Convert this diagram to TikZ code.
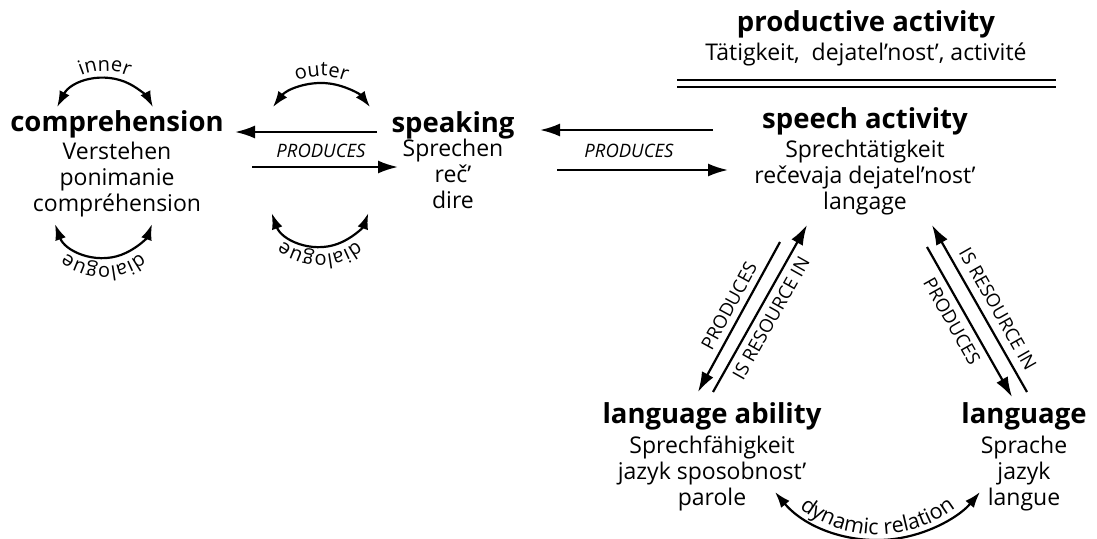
\documentclass[tikz,border=0pt]{standalone}
\usepackage{fontspec}
\setmainfont{Open Sans}
\usetikzlibrary{arrows.meta,decorations.text}
\newcommand\lblfont{\fontsize{20}{22}\selectfont}
\newcommand\dynfont{\fontsize{21.5}{24}\selectfont}
\tikzset{
  arr/.style={line width=2.2pt, -{Latex[length=20pt,width=13pt]}},
  carr/.style={line width=2.2pt, {Latex[length=16pt,width=11pt]}-{Latex[length=16pt,width=11pt]}},
  title/.style={anchor=base, inner sep=0pt, font=\fontsize{27.5}{30}\selectfont\bfseries},
  sub/.style={align=center, anchor=base, inner sep=0pt, font=\fontsize{23}{26}\selectfont},
  rel/.style={font=\fontsize{18.5}{21}\selectfont, inner sep=0pt, anchor=center},
  relit/.style={font=\fontsize{18.5}{21}\selectfont\itshape, inner sep=0pt, anchor=base},
  arctext/.style={decorate, decoration={text along path, text align=center, text={#1}}},
}
\begin{document}
\begin{tikzpicture}[x=1pt,y=-1pt]
\useasboundingbox (0,0) rectangle (1097,538);
% concepts (title line, then the lines below it; sub nodes sit on their last baseline)
\node[title] (comp) at (117,131) {comprehension};
\node[sub] (compsub) at (117,211) {Verstehen\\ponimanie\\compréhension};
\node[title] (spk) at (453,132) {speaking};
\node[sub] (spksub) at (453,208) {Sprechen\\reč’\\dire};
\node[title] (sa) at (865,128) {speech activity};
\node[sub] (sasub) at (865,209) {Sprechtätigkeit\\rečevaja dejatel’nost’\\langage};
\node[title] (pa) at (866,31) {productive activity};
\node[sub] (pasub) at (866,60) {Tätigkeit, \ dejatel’nost’, activité};
\node[title] (la) at (712,423) {language ability};
\node[sub] (lasub) at (712,505) {Sprechfähigkeit\\jazyk sposobnost’\\parole};
\node[title] (lang) at (1024,423) {language};
\node[sub] (langsub) at (1024,505) {Sprache\\jazyk\\langue};
% double rule
\coordinate (ruleL) at (677,83.5);
\coordinate (ruleR) at (1056,83.5);
\draw[line width=2pt, double, double distance=5pt] (ruleL) -- (ruleR);
% horizontal arrows
\coordinate (a1s) at (377,132); \coordinate (a1e) at (235,132);
\coordinate (a2s) at (252,167); \coordinate (a2e) at (398,167);
\coordinate (a3s) at (713,130); \coordinate (a3e) at (540,130);
\coordinate (a4s) at (557,170); \coordinate (a4e) at (728,170);
\draw[arr] (a1s) -- (a1e);
\draw[arr] (a2s) -- (a2e);
\draw[arr] (a3s) -- (a3e);
\draw[arr] (a4s) -- (a4e);
\node[relit] (p1) at (321,157) {PRODUCES};
\node[relit] (p2) at (629,157) {PRODUCES};
% diagonal arrows
\coordinate (d1s) at (780,242); \coordinate (d1e) at (698,392);
\coordinate (d2s) at (713,392); \coordinate (d2e) at (807,225);
\coordinate (d3s) at (1027,392); \coordinate (d3e) at (932,225);
\coordinate (d4s) at (927,247); \coordinate (d4e) at (1012,397);
\draw[arr] (d1s) -- (d1e);
\draw[arr] (d2s) -- (d2e);
\draw[arr] (d3s) -- (d3e);
\draw[arr] (d4s) -- (d4e);
\node[rel, rotate=61.3] (l1) at (729,306) {PRODUCES};
\node[rel, rotate=60.6] (l2) at (771,318) {IS RESOURCE IN};
\node[rel, rotate=-60.4] (l3) at (998,309) {IS RESOURCE IN};
\node[rel, rotate=-60.5] (l4) at (952,321) {PRODUCES};
% loop arrows
\coordinate (cin) at (105,132);
\coordinate (cout) at (321.5,144);
\coordinate (cdl) at (103.5,206.4);
\coordinate (cdr) at (320,195.6);
\coordinate (cdyn) at (877.5,406.6);
\draw[carr] (cin) ++(-152.5:54) arc[start angle=-152.5, end angle=-27.5, radius=54];
\path[arctext={|\lblfont|inner}] (cin) ++(-150:61) arc[start angle=-150, end angle=-30, radius=61];
\draw[carr] (cout) ++(-142.7:61) arc[start angle=-142.7, end angle=-37.3, radius=61];
\path[arctext={|\lblfont|outer}] (cout) ++(-140:68) arc[start angle=-140, end angle=-40, radius=68];
\draw[carr] (cdl) ++(160:51.6) arc[start angle=160, end angle=20, radius=51.6];
\path[arctext={|\lblfont|dialogue}] (cdl) ++(25:60) arc[start angle=25, end angle=155, radius=60];
\draw[carr] (cdr) ++(160:51.4) arc[start angle=160, end angle=20, radius=51.4];
\path[arctext={|\lblfont|dialogue}] (cdr) ++(25:59) arc[start angle=25, end angle=155, radius=59];
\draw[carr] (cdyn) ++(140.2:133.4) arc[start angle=140.2, end angle=39.8, radius=133.4];
\path[arctext={|\dynfont|dynamic relation}] (cdyn) ++(138:128) arc[start angle=138, end angle=42, radius=128];
\end{tikzpicture}
\end{document}
